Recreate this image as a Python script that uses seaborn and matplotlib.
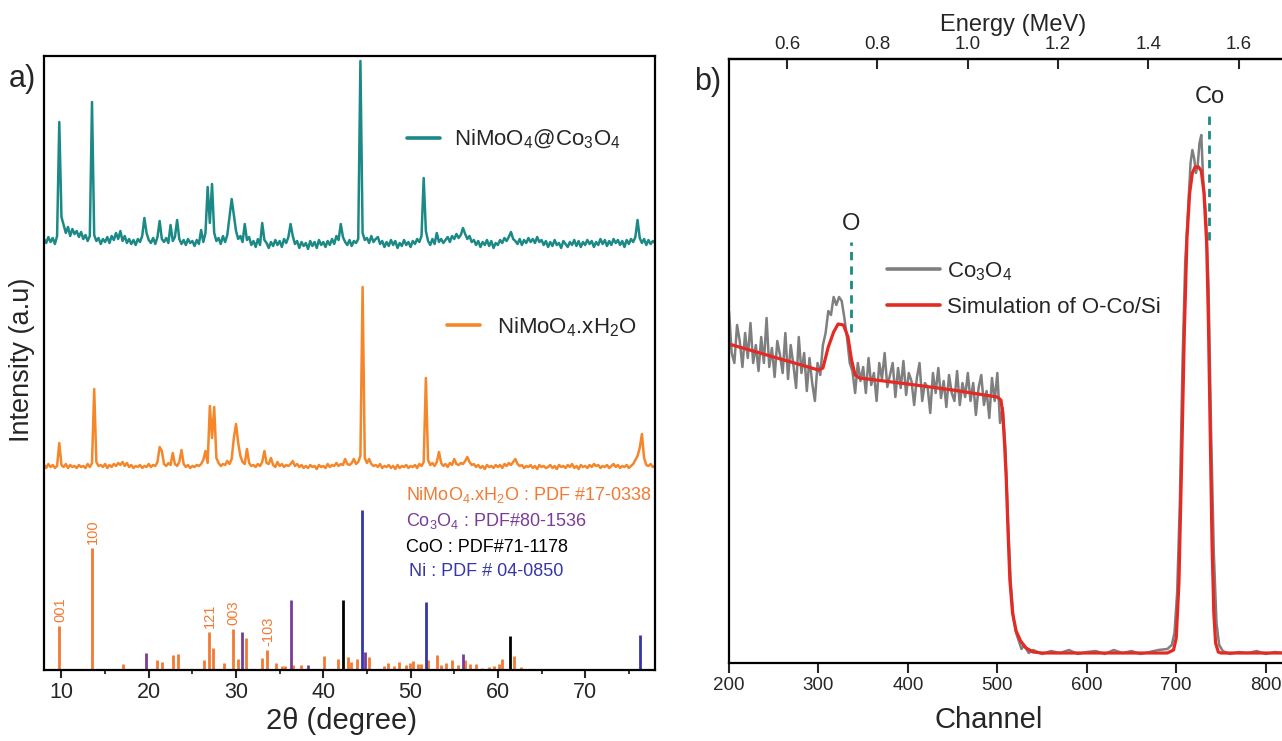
import numpy as np
import matplotlib
matplotlib.use('Agg')
import matplotlib.pyplot as plt
from matplotlib.lines import Line2D
from matplotlib.ticker import MultipleLocator, FormatStrFormatter
import seaborn as sns

# ---------------------------------------------------------------
# a) XRD patterns, sampled every 0.25 deg from 8 to 78 (2theta)
# values = height above each pattern's own baseline (a.u.)
# ---------------------------------------------------------------
two_theta_range = (8.0, 78.0)

nimoo4_co3o4 = [
    6, 2, 8, 3, 7, 1, 9, 123,
    28, 20, 12, 18, 9, 16, 11, 14,
    8, 13, 6, 10, 4, 9, 143, 10,
    4, 7, 1, 6, 3, 8, 2, 9,
    5, 12, 6, 14, 4, 9, 2, 6,
    1, 5, 0, 6, 3, 9, 27, 12,
    5, 2, 7, 1, 8, 24, 6, 3,
    7, 2, 20, 4, 8, 25, 6, 1,
    5, 0, 6, 2, 4, -1, 5, 1,
    15, 3, 12, 58, 22, 61, 12, 4,
    7, 1, 9, 3, 10, 28, 46, 30,
    14, 6, 9, 3, 21, 5, 8, 0,
    4, -2, 6, 0, 22, 5, 2, -3,
    3, -1, 5, 0, 4, -2, 6, 2,
    8, 21, 9, 1, 4, -3, 3, -1,
    2, -4, 4, -1, 3, -3, 5, 0,
    3, -2, 4, 0, 6, 1, 9, 5,
    21, 8, 3, 0, 5, -1, 4, 2,
    6, 184, 12, 5, 7, 2, 9, 3,
    6, 8, 1, 4, -2, 3, -1, 5,
    0, 4, -3, 2, -1, 5, 0, 3,
    -2, 4, 1, 6, 3, 9, 67, 14,
    4, 0, 6, 1, 12, 3, 6, 2,
    5, 8, 3, 9, 6, 11, 7, 10,
    17, 11, 6, 9, 3, 5, 0, 4,
    -2, 3, 0, 5, -1, 4, -3, 2,
    0, 5, 2, 7, 4, 8, 13, 6,
    4, 1, 6, 0, 5, 2, 7, 3,
    6, 2, 8, 3, 5, 0, 4, -2,
    3, -1, 5, 0, 2, -3, 4, 1,
    -2, 3, 0, 5, -1, 4, -2, 3,
    0, 5, 1, 4, -2, 3, 0, 6,
    1, 5, -1, 4, 0, 6, 2, 5,
    0, 4, -2, 5, 1, 6, 3, 8,
    25, 7, 2, 6, 0, 5, 1, 4,
    2,
]

nimoo4_xh2o = [
    3, 0, 4, 1, 3, 0, 2, 25,
    3, 1, 4, 0, 3, 1, 2, 0,
    3, 1, 2, 0, 4, 1, 5, 79,
    6, 2, 3, 1, 4, 0, 3, 1,
    4, 2, 5, 3, 6, 2, 5, 1,
    3, 0, 2, 1, 3, 0, 2, 1,
    4, 1, 3, 2, 6, 21, 17, 4,
    2, 5, 3, 15, 4, 2, 6, 18,
    4, 1, 3, 0, 2, 1, 3, 2,
    4, 8, 17, 5, 62, 30, 61, 10,
    5, 2, 4, 3, 7, 4, 9, 30,
    44, 25, 12, 6, 4, 19, 5, 2,
    3, 1, 4, 2, 6, 17, 5, 4,
    10, 3, 1, 6, 2, 4, 1, 3,
    2, 4, 7, 2, 4, 1, 3, 0,
    2, 0, 3, 1, 2, -1, 3, 1,
    2, 0, 4, 1, 3, 2, 5, 2,
    4, 3, 9, 4, 3, 5, 9, 4,
    6, 12, 181, 10, 5, 9, 4, 2,
    3, 1, 4, 0, 2, 1, 3, 0,
    2, -1, 3, 0, 2, 1, 3, 0,
    2, 1, 3, 0, 4, 2, 6, 90,
    8, 3, 5, 2, 6, 16, 5, 2,
    4, 1, 5, 3, 9, 4, 3, 5,
    4, 7, 11, 6, 3, 4, 1, 3,
    0, 2, -1, 3, 1, 2, 0, 3,
    1, 3, 0, 4, 2, 5, 3, 6,
    9, 4, 2, 3, 0, 2, 1, 3,
    0, 2, -1, 3, 1, 2, 0, 1,
    3, 0, 2, -1, 3, 1, 2, 0,
    3, 1, 4, 0, 2, -1, 3, 1,
    2, 0, 3, 1, 4, 2, 3, 0,
    2, 1, 3, 0, 2, 4, 1, 3,
    0, 2, 1, 3, 0, 2, 4, 8,
    12, 20, 34, 10, 3, 2, 4, 1,
    2,
]

# reference cards (stick patterns)
nimoo4_card_pos = [9.7, 13.5, 17.1, 21.0, 21.5, 22.8, 23.4, 26.3, 26.9, 27.4,
                   28.6, 29.6, 30.2, 31.1, 33.0, 33.6, 34.6, 35.3, 35.6, 36.5,
                   37.5, 40.1, 41.7, 42.8, 43.2, 43.9, 45.2, 46.9, 47.4, 48.1,
                   48.7, 49.5, 49.9, 50.3, 50.8, 51.2, 52.0, 53.0, 53.5, 54.1,
                   54.8, 55.4, 56.2, 56.8, 57.5, 58.2, 59.0, 59.6, 60.1, 60.5,
                   61.9, 62.6]
nimoo4_card_int = [44, 122, 6, 10, 8, 15, 16, 10, 38, 22,
                   7, 41, 11, 32, 12, 20, 7, 4, 4, 5,
                   5, 14, 11, 13, 8, 11, 13, 4, 7, 4,
                   8, 5, 7, 9, 6, 6, 10, 15, 5, 7,
                   10, 5, 10, 6, 6, 2, 3, 4, 6, 11,
                   14, 3]
co3o4_card_pos = [19.7, 30.7, 36.3, 38.2, 44.8, 56.0]
co3o4_card_int = [17, 38, 70, 5, 18, 16]
coo_card_pos = [42.3, 61.4]
coo_card_int = [70, 34]
ni_card_pos = [44.4, 51.8, 76.3]
ni_card_int = [160, 68, 35]

hkl_pos = [9.7, 13.5, 26.9, 29.6, 33.6]
hkl_int = [44, 122, 38, 41, 20]
hkl_text = ['001', '100', '121', '003', '-103']

# ---------------------------------------------------------------
# b) RBS spectrum of Co3O4 and its simulation
# ---------------------------------------------------------------
rbs_channels = list(range(200, 507, 3)) + [
    509, 512, 515, 518, 521, 524, 527, 530, 535, 540,
    550, 560, 570, 580, 590, 600, 610, 620, 630, 640,
    650, 660, 670, 680, 690, 695, 698, 701, 704, 707,
    710, 713, 716, 718, 720, 722, 724, 726, 728, 730,
    733, 736, 739, 742, 745, 748, 752, 760, 770, 780,
    790, 800, 810, 820, 835]
rbs_counts = [
    352, 310, 300, 338, 322, 296, 330, 305, 340, 300,
    318, 292, 326, 300, 345, 296, 315, 286, 322, 308,
    290, 330, 284, 318, 298, 275, 326, 290, 310, 272,
    305, 280, 262, 300, 288, 318, 330, 352, 348, 366,
    358, 366, 362, 345, 325, 300, 292, 270, 300, 282,
    296, 270, 305, 278, 290, 262, 300, 284, 310, 276,
    288, 300, 266, 295, 275, 302, 268, 290, 282, 258,
    285, 300, 262, 280, 276, 250, 290, 270, 295, 265,
    282, 256, 288, 270, 262, 292, 258, 280, 266, 290,
    262, 280, 248, 275, 288, 258, 272, 245, 285, 262,
    290, 240, 255,
    215, 140, 80, 45, 30, 22, 14, 18, 10, 13,
    9, 12, 10, 13, 9, 11, 12, 9, 13, 10,
    12, 9, 11, 13, 14, 18, 30, 70, 160, 300,
    400, 450, 500, 513, 505, 490, 498, 520, 528, 485,
    450, 380, 230, 110, 40, 18, 12, 9, 11, 10,
    12, 9, 11, 10, 10]

sim_channels = [200, 250, 300, 305, 311, 317, 322, 328, 333, 337,
                341, 346, 400, 450, 500, 504, 506, 508, 510, 512,
                514, 517, 521, 526, 532, 540, 550, 690, 697, 700,
                703, 706, 709, 712, 715, 718, 721, 725, 728, 731,
                734, 736, 738, 740, 742, 744, 747, 750, 835]
sim_counts = [319, 306, 293, 295, 316, 331, 339, 338, 326, 303,
              288, 285, 279, 273, 266, 263, 250, 220, 183, 130,
              83, 50, 32, 22, 15, 11, 10, 10, 13, 25,
              80, 200, 330, 425, 470, 490, 496, 496, 492, 470,
              420, 340, 230, 120, 50, 20, 11, 10, 10]

element_names = ['O', 'Co']
element_channels = [336, 737]
element_low = [331, 423]
element_high = [421, 548]

energy_ticks = [0.6, 0.8, 1.0, 1.2, 1.4, 1.6]

# ---------------------------------------------------------------
sns.set_style('ticks')
plt.rcParams['font.family'] = ['Liberation Sans', 'DejaVu Sans']
plt.rcParams['mathtext.fontset'] = 'custom'
plt.rcParams['mathtext.rm'] = 'Liberation Sans'
plt.rcParams['mathtext.it'] = 'Liberation Sans:italic'

teal = '#1B8A86'
orange = '#F5862A'
stick_orange = '#F27A32'
purple = '#7B3C97'
blue = '#3636A8'
grey = '#7F7F7F'
red = '#E42A22'

W, H = 1282, 741
fig = plt.figure(figsize=(W / 100, H / 100), dpi=100)


def fxy(px, py):
    return px / W, 1 - py / H


def style_spines(ax):
    for s in ax.spines.values():
        s.set_color('black')
        s.set_linewidth(1.6)


# ------------------------- panel a -----------------------------
ax_a = fig.add_axes([44 / W, 1 - 670 / H, 611 / W, 614 / H])
x_grid = np.linspace(two_theta_range[0], two_theta_range[1], len(nimoo4_co3o4))
offset_top, offset_mid = 425, 202

sns.lineplot(x=x_grid, y=np.array(nimoo4_co3o4) + offset_top, ax=ax_a,
             color=teal, lw=1.8, estimator=None)
sns.lineplot(x=x_grid, y=np.array(nimoo4_xh2o) + offset_mid, ax=ax_a,
             color=orange, lw=1.8, estimator=None)

ax_a.vlines(nimoo4_card_pos, 0, nimoo4_card_int, colors=stick_orange, lw=2)
ax_a.vlines(co3o4_card_pos, 0, co3o4_card_int, colors=purple, lw=2)
ax_a.vlines(coo_card_pos, 0, coo_card_int, colors='black', lw=2)
ax_a.vlines(ni_card_pos, 0, ni_card_int, colors=blue, lw=2)

for pos, h, t in zip(hkl_pos, hkl_int, hkl_text):
    ax_a.text(pos + 0.15, h + 4, t, rotation=90, ha='center', va='bottom',
              color=stick_orange, fontsize=10.5)

ax_a.set_xlim(*two_theta_range)
ax_a.set_ylim(0, 614)
ax_a.set_yticks([])
ax_a.xaxis.set_major_locator(MultipleLocator(10))
ax_a.xaxis.set_minor_locator(MultipleLocator(5))
ax_a.tick_params(axis='x', which='major', direction='out', length=6, width=1.5,
                 labelsize=15.5, pad=3)
ax_a.tick_params(axis='x', which='minor', direction='out', length=3, width=1.3)
style_spines(ax_a)
ax_a.set_xlabel('2θ (degree)', fontsize=21)
ax_a.xaxis.set_label_coords(*fxy(341, 721), transform=fig.transFigure)
ax_a.xaxis.label.set_va('center')
ax_a.set_ylabel('Intensity (a.u)', fontsize=19.5)
ax_a.yaxis.set_label_coords(*fxy(22, 360), transform=fig.transFigure)
ax_a.yaxis.label.set_va('center')

h_teal = Line2D([], [], color=teal, lw=2.6)
leg1 = ax_a.legend([h_teal], [r'NiMoO$_\mathregular{4}$@Co$_\mathregular{3}$O$_\mathregular{4}$'],
                   loc='upper left', bbox_to_anchor=fxy(407, 128),
                   bbox_transform=fig.transFigure, frameon=False, fontsize=16,
                   handlelength=1.5, handletextpad=0.6, borderpad=0, borderaxespad=0)
ax_a.add_artist(leg1)
h_orange = Line2D([], [], color=orange, lw=2.6)
ax_a.legend([h_orange], [r'NiMoO$_\mathregular{4}$.xH$_\mathregular{2}$O'],
            loc='upper left', bbox_to_anchor=fxy(447, 315),
            bbox_transform=fig.transFigure, frameon=False, fontsize=16,
            handlelength=1.5, handletextpad=0.75, borderpad=0, borderaxespad=0)

card_lines = [(r'NiMoO$_\mathregular{4}$.xH$_\mathregular{2}$O : PDF #17-0338', stick_orange, 406),
              (r'Co$_\mathregular{3}$O$_\mathregular{4}$ : PDF#80-1536', purple, 406),
              ('CoO : PDF#71-1178', 'black', 406),
              ('Ni : PDF # 04-0850', blue, 409)]
for (txt, col, px), py in zip(card_lines, [495, 521, 547, 572]):
    fig.text(*fxy(px, py), txt, color=col, fontsize=13, ha='left', va='center')

fig.text(*fxy(22, 79), 'a)', fontsize=22, ha='center', va='center')

# ------------------------- panel b -----------------------------
ax_b = fig.add_axes([729 / W, 1 - 663 / H, 568 / W, 604 / H])
sns.lineplot(x=rbs_channels, y=rbs_counts, ax=ax_b, color=grey, lw=1.8,
             estimator=None)
sns.lineplot(x=sim_channels, y=sim_counts, ax=ax_b, color=red, lw=2.3,
             estimator=None)

ax_b.vlines(element_channels, element_low, element_high, colors=teal, lw=2,
            linestyles=(0, (3, 2.2)))
for name, ch, hi in zip(element_names, element_channels, element_high):
    ax_b.text(ch, hi + 7, name, ha='center', va='bottom', fontsize=17)

ax_b.set_xlim(200, 835)
ax_b.set_ylim(0, 604)
ax_b.set_yticks([])
ax_b.xaxis.set_major_locator(MultipleLocator(100))
ax_b.tick_params(axis='x', direction='out', length=7, width=1.5, labelsize=13.5, pad=3)
style_spines(ax_b)
ax_b.spines['right'].set_visible(False)
ax_b.set_xlabel('Channel', fontsize=21)
ax_b.xaxis.set_label_coords(*fxy(989, 720), transform=fig.transFigure)
ax_b.xaxis.label.set_va('center')


def ch_to_mev(ch):
    return 0.0756 + 0.00198 * np.asarray(ch)


def mev_to_ch(e):
    return (np.asarray(e) - 0.0756) / 0.00198


sec = ax_b.secondary_xaxis('top', functions=(ch_to_mev, mev_to_ch))
sec.set_xticks(energy_ticks)
sec.xaxis.set_major_formatter(FormatStrFormatter('%.1f'))
sec.tick_params(direction='in', length=7, width=1.5, labelsize=13.5, pad=4)
sec.spines['top'].set_linewidth(1.6)
sec.set_xlabel('Energy (MeV)', fontsize=17)
sec.xaxis.set_label_coords(*fxy(1013, 25), transform=fig.transFigure)
sec.xaxis.label.set_va('center')

ax_b.legend([Line2D([], [], color=grey, lw=2.6), Line2D([], [], color=red, lw=2.6)],
            [r'Co$_\mathregular{3}$O$_\mathregular{4}$', 'Simulation of O-Co/Si'],
            loc='upper left', bbox_to_anchor=fxy(887, 260),
            bbox_transform=fig.transFigure, frameon=False, fontsize=16,
            handlelength=2.4, handletextpad=0.3, labelspacing=0.65,
            borderpad=0, borderaxespad=0)

fig.text(*fxy(708, 82), 'b)', fontsize=22, ha='center', va='center')

fig.savefig('out.png', dpi=100)
